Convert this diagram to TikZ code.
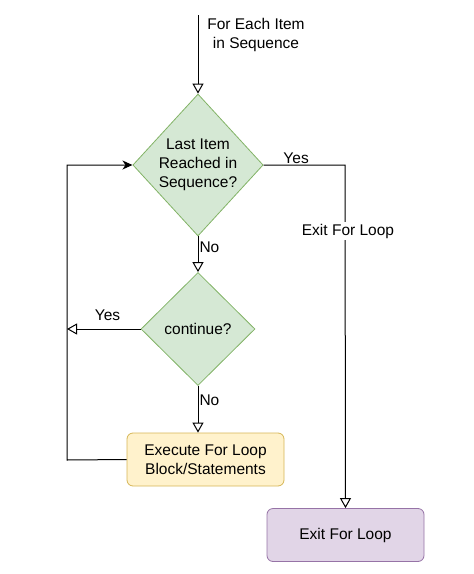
\documentclass[tikz,border=0pt]{standalone}
\usepackage{fontspec}
\setmainfont{Liberation Sans}
\usetikzlibrary{arrows.meta,shapes.geometric}
\definecolor{dgreenF}{HTML}{D5E8D4}
\definecolor{dgreenD}{HTML}{82B366}
\definecolor{yelF}{HTML}{FFF2CC}
\definecolor{yelD}{HTML}{D6B656}
\definecolor{purF}{HTML}{E1D5E7}
\definecolor{purD}{HTML}{9673A6}
\tikzset{
  txt/.style={font=\fontsize{15.5}{19}\selectfont, align=center},
  decision/.style={diamond, draw=dgreenD, fill=dgreenF, line width=0.8pt, inner sep=0pt, txt},
  procbox/.style={rectangle, rounded corners=6pt, line width=0.8pt, txt, minimum width=157pt, minimum height=53pt, inner sep=0pt},
  flow/.style={line width=1pt, -{Triangle[open, length=10pt, width=11pt]}},
  lbl/.style={txt, inner sep=1pt}
}
\begin{document}
\begin{tikzpicture}[x=1pt,y=-1pt]
\useasboundingbox (0,0) rectangle (474,574);
\node[decision, minimum width=130pt, minimum height=142pt] (d1) at (198,165) {Last Item\\Reached in\\Sequence?};
\node[decision, minimum width=114pt, minimum height=113pt] (d2) at (198,329) {continue?};
\node[procbox, draw=yelD, fill=yelF] (ex) at (205.5,459.5) {Execute For Loop\\Block/Statements};
\node[procbox, draw=purD, fill=purF] (ef) at (345.5,535) {Exit For Loop};
\coordinate (start) at (198,15);
\coordinate (yl) at (67,329);
\coordinate (rc) at (345,165);
\coordinate (lb) at (67,460);
\coordinate (lt) at (67,165);
\node[lbl] (ftxt) at (256,34.5) {For Each Item\\in Sequence};
\draw[flow] (start) -- (d1.north);
\draw[flow] (d1.south) -- node[lbl, right, pos=0.3] (no1) {No} (d2.north);
\draw[flow] (d2.south) -- node[lbl, right, pos=0.3] (no2) {No} (ex.north -| d2.south);
\draw[flow] (d2.west) -- node[lbl, above=7pt, pos=0.45] (yes2) {Yes} (yl);
\draw[flow] (d1.east) -- node[lbl, above, pos=0.4] (yes1) {Yes} (rc) -- (ef.north);
\node[lbl, fill=white, inner sep=2pt] (exl) at (348,231) {Exit For Loop};
\draw[line width=1pt, -{Stealth[length=10pt, width=9pt, inset=3pt]}] (ex.west) -- (lb) -- (lt) -- (d1.west);
\end{tikzpicture}
\end{document}
